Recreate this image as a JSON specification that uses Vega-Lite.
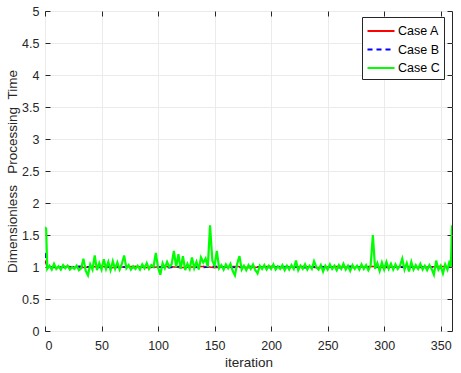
{
  "$schema": "https://vega.github.io/schema/vega-lite/v6.json",
  "width": 407,
  "height": 320,
  "autosize": "none",
  "padding": {"left": 45, "top": 11, "right": 9, "bottom": 42},
  "config": {
    "font": "Liberation Sans",
    "view": {"stroke": "#262626", "strokeWidth": 1},
    "axis": {"domain": false, "tickColor": "#262626", "labelColor": "#262626", "titleColor": "#262626", "labelFontSize": 12.5, "titleFontSize": 13.5, "titleFontWeight": "normal", "gridColor": "#ebebeb", "tickSize": -5}
  },
  "datasets": {
    "a": [
      {"x":0,"y":1.1},{"x":2,"y":1.0},{"x":10,"y":0.99},{"x":20,"y":1.01},{"x":30,"y":0.99},{"x":40,"y":1.0},{"x":50,"y":1.01},{"x":60,"y":0.99},{"x":70,"y":1.0},{"x":80,"y":1.01},{"x":90,"y":0.99},{"x":100,"y":1.0},{"x":110,"y":1.01},{"x":120,"y":0.99},{"x":130,"y":1.0},{"x":140,"y":1.01},{"x":150,"y":0.99},{"x":160,"y":1.0},{"x":170,"y":1.01},{"x":180,"y":0.99},{"x":190,"y":1.0},{"x":200,"y":1.01},{"x":210,"y":0.99},{"x":220,"y":1.0},{"x":230,"y":1.01},{"x":240,"y":0.99},{"x":250,"y":1.0},{"x":260,"y":1.01},{"x":270,"y":0.99},{"x":280,"y":1.0},{"x":290,"y":1.01},{"x":300,"y":0.99},{"x":310,"y":1.0},{"x":320,"y":1.01},{"x":330,"y":0.99},{"x":340,"y":1.0},{"x":350,"y":1.01},{"x":360,"y":1.0}
    ],
    "b": [
      {"x":0,"y":1.22},{"x":2,"y":1.0},{"x":10,"y":1.0},{"x":20,"y":0.99},{"x":30,"y":1.01},{"x":40,"y":1.0},{"x":50,"y":0.99},{"x":60,"y":1.01},{"x":70,"y":1.0},{"x":80,"y":0.99},{"x":90,"y":1.01},{"x":100,"y":1.0},{"x":110,"y":0.99},{"x":120,"y":1.01},{"x":130,"y":1.0},{"x":140,"y":0.99},{"x":150,"y":1.01},{"x":160,"y":1.0},{"x":170,"y":0.99},{"x":180,"y":1.01},{"x":190,"y":1.0},{"x":200,"y":0.99},{"x":210,"y":1.01},{"x":220,"y":1.0},{"x":230,"y":0.99},{"x":240,"y":1.01},{"x":250,"y":1.0},{"x":260,"y":0.99},{"x":270,"y":1.01},{"x":280,"y":1.0},{"x":290,"y":0.99},{"x":300,"y":1.01},{"x":310,"y":1.0},{"x":320,"y":0.99},{"x":330,"y":1.01},{"x":340,"y":1.0},{"x":350,"y":0.99},{"x":360,"y":1.0}
    ],
    "c": [
      {"x":0,"y":1.62},{"x":1,"y":1.6},{"x":2,"y":0.97},{"x":4,"y":1.02},{"x":6,"y":0.96},{"x":8,"y":1.05},{"x":10,"y":0.97},{"x":12,"y":1.01},{"x":14,"y":0.96},{"x":16,"y":1.03},{"x":18,"y":0.98},{"x":20,"y":1.02},{"x":22,"y":0.96},{"x":24,"y":1.0},{"x":26,"y":0.97},{"x":28,"y":1.02},{"x":30,"y":0.95},{"x":32,"y":0.98},{"x":34,"y":1.13},{"x":36,"y":0.94},{"x":38,"y":0.87},{"x":40,"y":1.04},{"x":42,"y":0.96},{"x":44,"y":1.18},{"x":46,"y":0.95},{"x":48,"y":1.06},{"x":50,"y":0.96},{"x":52,"y":1.12},{"x":54,"y":0.97},{"x":56,"y":1.08},{"x":58,"y":0.95},{"x":60,"y":1.09},{"x":62,"y":0.97},{"x":64,"y":1.07},{"x":66,"y":0.96},{"x":68,"y":1.05},{"x":70,"y":1.18},{"x":72,"y":0.98},{"x":74,"y":1.03},{"x":76,"y":0.96},{"x":78,"y":1.01},{"x":80,"y":0.97},{"x":82,"y":1.02},{"x":84,"y":0.96},{"x":86,"y":1.04},{"x":88,"y":0.98},{"x":90,"y":1.06},{"x":92,"y":0.97},{"x":94,"y":1.03},{"x":96,"y":1.0},{"x":98,"y":1.22},{"x":100,"y":0.99},{"x":102,"y":0.88},{"x":104,"y":1.06},{"x":106,"y":0.98},{"x":108,"y":1.08},{"x":110,"y":1.0},{"x":112,"y":1.04},{"x":114,"y":1.25},{"x":116,"y":1.0},{"x":118,"y":1.2},{"x":120,"y":0.97},{"x":122,"y":1.17},{"x":124,"y":0.95},{"x":126,"y":1.05},{"x":128,"y":0.97},{"x":130,"y":1.15},{"x":132,"y":0.98},{"x":134,"y":1.08},{"x":136,"y":0.96},{"x":138,"y":1.15},{"x":140,"y":1.07},{"x":142,"y":1.13},{"x":144,"y":1.0},{"x":146,"y":1.65},{"x":148,"y":1.1},{"x":150,"y":1.02},{"x":152,"y":1.25},{"x":154,"y":0.98},{"x":156,"y":1.03},{"x":158,"y":0.96},{"x":160,"y":1.04},{"x":162,"y":0.98},{"x":164,"y":1.05},{"x":166,"y":0.94},{"x":168,"y":0.87},{"x":170,"y":1.05},{"x":172,"y":1.17},{"x":174,"y":0.96},{"x":176,"y":1.02},{"x":178,"y":0.95},{"x":180,"y":1.03},{"x":182,"y":0.97},{"x":184,"y":1.04},{"x":186,"y":0.95},{"x":188,"y":0.9},{"x":190,"y":1.02},{"x":192,"y":0.97},{"x":194,"y":1.03},{"x":196,"y":0.96},{"x":198,"y":1.02},{"x":200,"y":0.97},{"x":202,"y":1.04},{"x":204,"y":0.96},{"x":206,"y":1.01},{"x":208,"y":0.97},{"x":210,"y":1.03},{"x":212,"y":0.95},{"x":214,"y":1.02},{"x":216,"y":0.96},{"x":218,"y":1.03},{"x":220,"y":0.97},{"x":222,"y":1.1},{"x":224,"y":0.95},{"x":226,"y":1.02},{"x":228,"y":0.97},{"x":230,"y":1.04},{"x":232,"y":0.96},{"x":234,"y":1.02},{"x":236,"y":0.97},{"x":238,"y":1.09},{"x":240,"y":1.0},{"x":242,"y":0.96},{"x":244,"y":1.03},{"x":246,"y":0.93},{"x":248,"y":1.02},{"x":250,"y":0.96},{"x":252,"y":1.04},{"x":254,"y":0.97},{"x":256,"y":1.02},{"x":258,"y":0.95},{"x":260,"y":1.03},{"x":262,"y":0.97},{"x":264,"y":1.05},{"x":266,"y":0.96},{"x":268,"y":1.02},{"x":270,"y":0.94},{"x":272,"y":1.03},{"x":274,"y":0.97},{"x":276,"y":1.02},{"x":278,"y":0.96},{"x":280,"y":1.04},{"x":282,"y":0.97},{"x":284,"y":1.03},{"x":286,"y":0.95},{"x":288,"y":1.02},{"x":290,"y":1.5},{"x":292,"y":0.97},{"x":294,"y":1.06},{"x":296,"y":0.94},{"x":298,"y":1.07},{"x":300,"y":0.96},{"x":302,"y":1.08},{"x":304,"y":0.97},{"x":306,"y":1.05},{"x":308,"y":0.96},{"x":310,"y":1.04},{"x":312,"y":0.97},{"x":314,"y":1.02},{"x":316,"y":1.13},{"x":318,"y":0.96},{"x":320,"y":1.06},{"x":322,"y":0.93},{"x":324,"y":1.08},{"x":326,"y":0.96},{"x":328,"y":1.03},{"x":330,"y":0.97},{"x":332,"y":1.05},{"x":334,"y":0.96},{"x":336,"y":1.02},{"x":338,"y":0.95},{"x":340,"y":1.03},{"x":342,"y":0.97},{"x":344,"y":0.88},{"x":346,"y":1.1},{"x":348,"y":0.96},{"x":350,"y":1.02},{"x":352,"y":0.9},{"x":354,"y":1.04},{"x":356,"y":0.96},{"x":358,"y":1.1},{"x":359,"y":1.0},{"x":360,"y":1.65}
    ]
  },
  "layer": [
    {
      "data": {"name": "a"},
      "transform": [{"calculate": "'Case A'", "as": "series"}],
      "mark": {"type": "line", "strokeWidth": 1.5, "clip": true},
      "encoding": {
        "x": {"field": "x", "type": "quantitative", "scale": {"domain": [0, 360], "nice": false, "zero": false}, "axis": {"orient": "bottom", "title": "iteration", "values": [0,50,100,150,200,250,300,350], "grid": true, "labelPadding": 13, "titlePadding": 4}},
        "y": {"field": "y", "type": "quantitative", "scale": {"domain": [0, 5], "nice": false}, "axis": {"orient": "left", "title": "Dimensionless\u00a0\u00a0\u00a0Processing\u00a0\u00a0Time", "values": [0,0.5,1,1.5,2,2.5,3,3.5,4,4.5,5], "format": "~g", "grid": true, "labelPadding": 11, "titlePadding": 2}},
        "color": {"field": "series", "type": "nominal", "scale": {"domain": ["Case A", "Case B", "Case C"], "range": ["#ff0000", "#0000ff", "#00ff00"]}, "legend": {"title": null, "orient": "none", "legendX": 317, "legendY": 6, "strokeColor": "#262626", "fillColor": "white", "padding": 4, "symbolType": "M-1.5,0H1.5", "symbolSize": 324, "symbolStrokeWidth": 2, "symbolOffset": 5, "labelFontSize": 12.5, "labelColor": "#000000", "rowPadding": 1.5, "labelOffset": 7}},
        "strokeDash": {"field": "series", "type": "nominal", "scale": {"domain": ["Case A", "Case B", "Case C"], "range": [[1,0],[5,4],[1,0]]}, "legend": null}
      }
    },
    {
      "data": {"name": "b"},
      "transform": [{"calculate": "'Case B'", "as": "series"}],
      "mark": {"type": "line", "strokeWidth": 1.5, "clip": true},
      "encoding": {
        "x": {"field": "x", "type": "quantitative", "axis": {"orient": "top", "title": null, "labels": false, "grid": false, "values": [0,50,100,150,200,250,300,350]}},
        "y": {"field": "y", "type": "quantitative", "axis": {"orient": "right", "title": null, "labels": false, "grid": false, "values": [0,0.5,1,1.5,2,2.5,3,3.5,4,4.5,5]}},
        "color": {"field": "series", "type": "nominal"},
        "strokeDash": {"field": "series", "type": "nominal"}
      }
    },
    {
      "data": {"name": "c"},
      "transform": [{"calculate": "'Case C'", "as": "series"}],
      "mark": {"type": "line", "strokeWidth": 2.2, "clip": true},
      "encoding": {
        "x": {"field": "x", "type": "quantitative", "axis": null},
        "y": {"field": "y", "type": "quantitative", "axis": null},
        "color": {"field": "series", "type": "nominal"},
        "strokeDash": {"field": "series", "type": "nominal"}
      }
    }
  ],
  "resolve": {"axis": {"x": "independent", "y": "independent"}}
}
